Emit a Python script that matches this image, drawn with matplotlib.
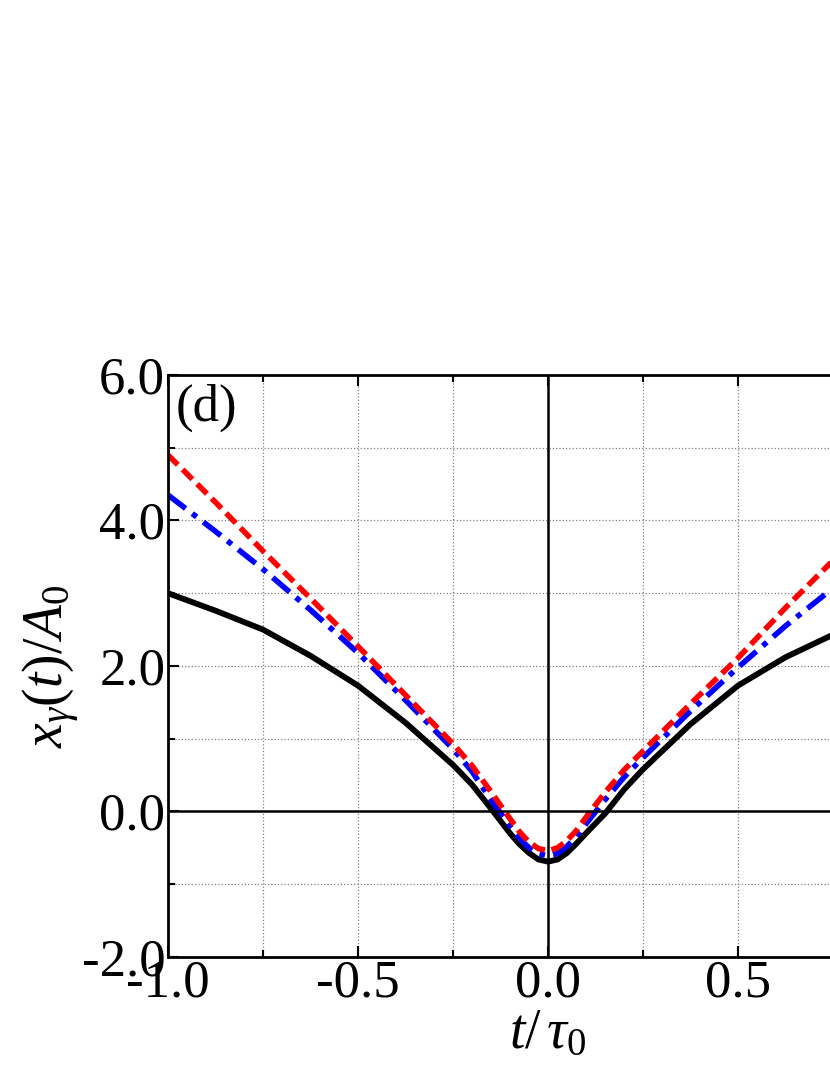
import matplotlib
matplotlib.use("Agg")
import matplotlib.pyplot as plt

t_vals = [-1.0, -0.875, -0.75, -0.625, -0.5, -0.375, -0.25, -0.2, -0.15, -0.1, -0.075, -0.05, -0.025, 0.0, 0.025, 0.05, 0.075, 0.1, 0.15, 0.2, 0.25, 0.375, 0.5, 0.625, 0.75, 0.8]
x_black = [3.0, 2.76, 2.5, 2.14, 1.73, 1.22, 0.64, 0.37, 0.04, -0.3, -0.45, -0.57, -0.66, -0.69, -0.66, -0.57, -0.44, -0.3, -0.03, 0.3, 0.58, 1.2, 1.73, 2.12, 2.43, 2.55]
x_blue = [4.35, 3.85, 3.33, 2.77, 2.18, 1.53, 0.86, 0.55, 0.16, -0.2, -0.37, -0.5, -0.58, -0.61, -0.58, -0.48, -0.34, -0.17, 0.16, 0.47, 0.74, 1.38, 1.98, 2.55, 3.07, 3.27]
x_red = [4.9, 4.25, 3.58, 2.93, 2.27, 1.6, 0.93, 0.63, 0.27, -0.1, -0.28, -0.42, -0.51, -0.54, -0.5, -0.4, -0.26, -0.08, 0.26, 0.57, 0.83, 1.48, 2.11, 2.8, 3.45, 3.68]

plt.rcParams["font.family"] = "Liberation Serif"
plt.rcParams["mathtext.fontset"] = "custom"
plt.rcParams["mathtext.it"] = "Liberation Serif:italic"
plt.rcParams["mathtext.rm"] = "Liberation Serif"

fig = plt.figure(figsize=(8.3, 10.75), dpi=100)
ax = fig.add_axes([0.2024, 0.1098, 0.9157, 0.5414])
ax.plot(t_vals, x_black, color="black", lw=4.2)
ax.plot(t_vals, x_blue, color="blue", lw=4, ls=(0, (4, 1.5, 1, 1.5)))
ax.plot(t_vals, x_red, color="red", lw=4, ls=(0, (2.5, 1.2)))
ax.axhline(0, color="black", lw=1.8)
ax.axvline(0, color="black", lw=1.8)
ax.set_xlim(-1.0, 1.0)
ax.set_ylim(-2.0, 6.0)
ax.set_xticks([-1.0, -0.5, 0.0, 0.5, 1.0])
ax.set_xticklabels(["-1.0", "-0.5", "0.0", "0.5", "1.0"])
ax.set_xticks([-0.75, -0.25, 0.25, 0.75], minor=True)
ax.set_yticks([-2.0, 0.0, 2.0, 4.0, 6.0])
ax.set_yticklabels(["-2.0", "0.0", "2.0", "4.0", "6.0"])
ax.set_yticks([-1.0, 1.0, 3.0, 5.0], minor=True)
ax.grid(True, which="both", color="gray", ls=":", lw=0.9)
ax.tick_params(which="both", direction="in", top=True, right=True, labelsize=38, width=1.5, pad=2)
ax.tick_params(which="major", length=8)
ax.tick_params(which="minor", length=5)
for s in ax.spines.values():
    s.set_linewidth(2)
ax.set_xlabel(r"$t/\,\tau_0$", fontsize=40, labelpad=0)
ax.set_ylabel(r"$x_\gamma(t)/A_0$", fontsize=40, labelpad=0)
ax.text(0.01, 0.985, "(d)", transform=ax.transAxes, fontsize=38, va="top", ha="left")
fig.savefig("out.png", dpi=100)
